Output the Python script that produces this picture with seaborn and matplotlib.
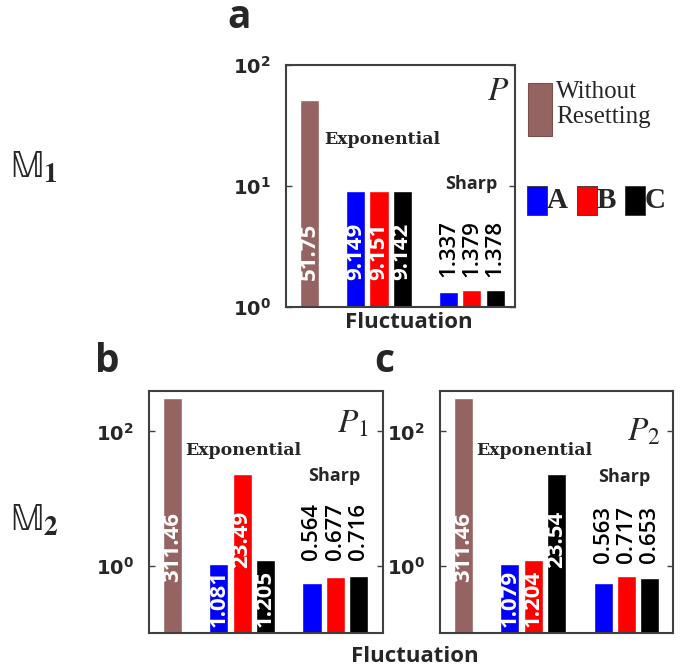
import numpy as np
import pandas as pd
import seaborn as sns
import matplotlib.pyplot as plt
import matplotlib.transforms as mtransforms
from matplotlib.patches import Rectangle
from matplotlib.ticker import FuncFormatter, NullLocator

sns.set_theme(style='white')
plt.rcParams['font.family'] = ['Open Sans', 'DejaVu Sans']
plt.rcParams['mathtext.fontset'] = 'dejavusans'
plt.rcParams['mathtext.default'] = 'rm'

# Data
series = ['Without', 'A', 'B', 'C']
palette = {'Without': '#966363', 'A': '#0000ff', 'B': '#ff0000', 'C': '#000000'}

a_without = 51.75
a_exp = [9.149, 9.151, 9.142]
a_sharp = [1.337, 1.379, 1.378]

b_without = 311.46
b_exp = [1.081, 23.49, 1.205]
b_sharp = [0.564, 0.677, 0.716]

c_without = 311.46
c_exp = [1.079, 1.204, 23.54]
c_sharp = [0.563, 0.717, 0.653]

a_labels = ['51.75', '9.149', '9.151', '9.142', '1.337', '1.379', '1.378']
b_labels = ['311.46', '1.081', '23.49', '1.205', '0.564', '0.677', '0.716']
c_labels = ['311.46', '1.079', '1.204', '23.54', '0.563', '0.717', '0.653']

# label anchor (axes fraction, bottom of rotated text)
a_label_y = [0.112] * 4 + [0.124] * 3
b_label_y = [0.21, 0.025, 0.27, 0.025, 0.30, 0.30, 0.30]
c_label_y = [0.21, 0.025, 0.025, 0.27, 0.29, 0.29, 0.29]


def make_df(without, exp, sharp):
    pos = [0] + [2 + i for i in range(3)] + [6 + i for i in range(3)]
    ser = ['Without'] + series[1:] + series[1:]
    return pd.DataFrame({'pos': pos, 'value': [without] + list(exp) + list(sharp), 'series': ser})


fig = plt.figure(figsize=(6.88, 6.72), dpi=100)
ax_a = fig.add_axes([0.4157, 0.5432, 0.3328, 0.3601])
ax_b = fig.add_axes([0.2166, 0.0580, 0.3401, 0.3601])
ax_c = fig.add_axes([0.6395, 0.0580, 0.3387, 0.3601])

panels = [
    (ax_a, make_df(a_without, a_exp, a_sharp), a_labels, a_label_y, (1, 100), [1, 10, 100], (-1.0, 8.85)),
    (ax_b, make_df(b_without, b_exp, b_sharp), b_labels, b_label_y, (0.1, 400), [1, 100], (-1.0, 9.05)),
    (ax_c, make_df(c_without, c_exp, c_sharp), c_labels, c_label_y, (0.1, 400), [1, 100], (-1.0, 9.0)),
]

for ax, df, labels, label_y, ylim, yticks, xlim in panels:
    sns.barplot(data=df, x='pos', y='value', hue='series', palette=palette,
                native_scale=True, dodge=False, width=0.82, saturation=1,
                legend=False, ax=ax)
    ax.set_yscale('log')
    ax.set_ylim(*ylim)
    ax.set_xlim(*xlim)
    ax.set_yticks(yticks)
    ax.yaxis.set_minor_locator(NullLocator())
    ax.yaxis.set_major_formatter(FuncFormatter(lambda v, p: r'$\mathbf{10^{%d}}$' % round(np.log10(v))))
    ax.tick_params(axis='y', direction='in', left=True, right=True, length=4, width=1,
                   labelsize=14, labelcolor='#262626', color='#404040', pad=11)
    ax.tick_params(axis='x', bottom=False, labelbottom=False)
    ax.set_xlabel('')
    ax.set_ylabel('')
    for s in ax.spines.values():
        s.set_color('#404040')
        s.set_linewidth(1.5)
    trans = mtransforms.blended_transform_factory(ax.transData, ax.transAxes)
    for i, (x, lab, yy) in enumerate(zip(df['pos'], labels, label_y)):
        inside = i < 4
        ax.text(x, yy, lab, transform=trans, rotation=90, ha='center', va='bottom',
                fontsize=16, color='white' if inside else 'black',
                fontweight='bold' if inside else 'semibold')

# group annotations
for ax, ex, ey, sx, sy in [(ax_a, 0.42, 0.69, 0.81, 0.51),
                           (ax_b, 0.404, 0.756, 0.79, 0.65),
                           (ax_c, 0.405, 0.756, 0.79, 0.645)]:
    ax.text(ex, ey, 'Exponential', transform=ax.transAxes, ha='center', va='center',
            family='DejaVu Serif', fontweight='bold', fontsize=12.5)
    ax.text(sx, sy, 'Sharp', transform=ax.transAxes, ha='center', va='center',
            fontweight='bold', fontsize=13)

ax_a.text(0.975, 0.96, r'$\mathit{P}$', transform=ax_a.transAxes, ha='right', va='top',
          fontsize=24, math_fontfamily='stix')
ax_b.text(0.94, 0.93, r'$\mathit{P}_{1}$', transform=ax_b.transAxes, ha='right', va='top',
          fontsize=24, math_fontfamily='stix')
ax_c.text(0.945, 0.90, r'$\mathit{P}_{2}$', transform=ax_c.transAxes, ha='right', va='top',
          fontsize=24, math_fontfamily='stix')

# x labels
fig.text(409 / 688, 1 - 322 / 672, 'Fluctuation', ha='center', va='center',
         fontsize=16, fontweight='bold')
fig.text(415 / 688, 1 - 656 / 672, 'Fluctuation', ha='center', va='center',
         fontsize=16, fontweight='bold')

# panel letters
fig.text(239 / 688, 1 - 18 / 672, 'a', ha='center', va='center', fontsize=28, fontweight='bold')
fig.text(107 / 688, 1 - 362 / 672, 'b', ha='center', va='center', fontsize=28, fontweight='bold')
fig.text(384 / 688, 1 - 362 / 672, 'c', ha='center', va='center', fontsize=28, fontweight='bold')

# row labels
fig.text(10 / 688, 0.75, r'$\mathbb{M}_{\mathbf{1}}$', ha='left', va='center',
         fontsize=28, math_fontfamily='stix')
fig.text(10 / 688, 0.225, r'$\mathbb{M}_{\mathbf{2}}$', ha='left', va='center',
         fontsize=28, math_fontfamily='stix')

# legend
fig.patches.append(Rectangle((528 / 688, 1 - 136 / 672), 24 / 688, 53 / 672,
                             transform=fig.transFigure, facecolor=palette['Without'],
                             edgecolor='#7a4f4f', linewidth=0.8))
fig.text(556 / 688, 1 - 81 / 672, 'Without\nResetting', ha='left', va='top',
         family='Liberation Serif', fontsize=18, linespacing=1.2)
for x0, name in zip([527, 577, 625], series[1:]):
    fig.patches.append(Rectangle((x0 / 688, 1 - 215 / 672), 20 / 688, 29 / 672,
                                 transform=fig.transFigure, facecolor=palette[name],
                                 edgecolor='#333333', linewidth=0.6))
    fig.text((x0 + 20) / 688, 1 - 201 / 672, name, ha='left', va='center',
             family='Liberation Serif', fontweight='bold', fontsize=21)

fig.savefig('out.png', dpi=100)
